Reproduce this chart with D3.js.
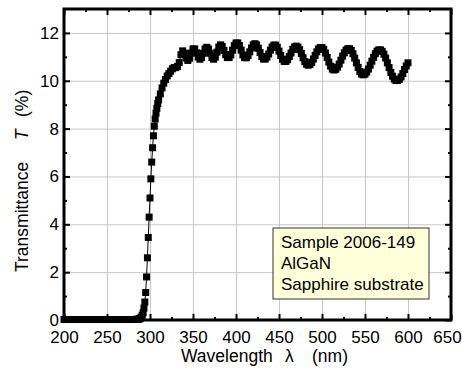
<!DOCTYPE html>
<html>
<head>
<meta charset="utf-8">
<script src="https://cdn.jsdelivr.net/npm/d3@7"></script>
<style>
  html, body { margin: 0; padding: 0; background: #fff; }
  svg text { font-family: "Liberation Sans", Arial, sans-serif; fill: #000; }
</style>
</head>
<body>
<div id="chart"></div>
<script>
// wavelength (nm)
const wavelength = [
  200, 204, 208, 212, 216, 220, 224, 228, 232, 236, 240, 244, 248, 252, 256, 260, 264, 268, 272, 276, 280, 284,
  286, 287, 288, 289, 290, 291, 292, 293, 294, 295, 296, 297, 298, 299, 300,
  301, 302, 303, 304, 305, 306, 307, 308, 309, 310,
  312, 314, 316, 318, 320, 322, 324, 326, 328, 330,
  332, 334, 336, 338, 340, 342, 344, 346, 348, 350,
  352, 354, 356, 358, 360, 362, 364, 366, 368, 370,
  372, 374, 376, 378, 380, 382, 384, 386, 388, 390,
  392, 394, 396, 398, 400, 402, 404, 406, 408, 410,
  412, 414, 416, 418, 420, 422, 424, 426, 428, 430,
  432, 434, 436, 438, 440, 442, 444, 446, 448, 450,
  452, 454, 456, 458, 460, 462, 464, 466, 468, 470,
  472, 474, 476, 478, 480, 482, 484, 486, 488, 490,
  492, 494, 496, 498, 500, 502, 504, 506, 508, 510,
  512, 514, 516, 518, 520, 522, 524, 526, 528, 530,
  532, 534, 536, 538, 540, 542, 544, 546, 548, 550,
  552, 554, 556, 558, 560, 562, 564, 566, 568, 570,
  572, 574, 576, 578, 580, 582, 584, 586, 588, 590,
  592, 594, 596, 598, 600
]

// transmittance T (%)
const transmittance = [
  0.02, 0.02, 0.02, 0.02, 0.02, 0.02, 0.02, 0.02, 0.02, 0.02, 0.02, 0.02, 0.02, 0.02, 0.02, 0.02, 0.02, 0.02, 0.02, 0.02, 0.02, 0.03,
  0.03, 0.04, 0.05, 0.08, 0.12, 0.2, 0.3, 0.5, 0.75, 1.15, 1.8, 2.6, 3.45, 4.3, 5.1,
  5.9, 6.6, 7.2, 7.7, 8.1, 8.4, 8.65, 8.85, 9.05, 9.2,
  9.45, 9.7, 9.9, 10.05, 10.2, 10.3, 10.4, 10.5, 10.55, 10.55,
  10.6, 10.76, 11.09, 11.25, 11.15, 10.95, 10.85, 10.94, 11.16, 11.33,
  11.33, 11.17, 10.99, 10.9, 10.97, 11.15, 11.33, 11.4, 11.33, 11.15,
  10.97, 10.9, 10.99, 11.2, 11.41, 11.5, 11.44, 11.27, 11.09, 10.97,
  10.97, 11.08, 11.28, 11.47, 11.58, 11.58, 11.47, 11.28, 11.08, 10.97,
  10.96, 11.05, 11.21, 11.37, 11.5, 11.55, 11.5, 11.36, 11.18, 11.01,
  10.91, 10.91, 10.99, 11.12, 11.28, 11.41, 11.49, 11.49, 11.4, 11.24,
  11.06, 10.9, 10.81, 10.81, 10.88, 11.01, 11.16, 11.31, 11.41, 11.45,
  11.41, 11.3, 11.14, 10.96, 10.8, 10.69, 10.65, 10.68, 10.77, 10.91,
  11.06, 11.21, 11.33, 11.39, 11.39, 11.31, 11.16, 10.97, 10.78, 10.61,
  10.49, 10.45, 10.48, 10.57, 10.7, 10.86, 11.03, 11.17, 11.28, 11.34,
  11.34, 11.27, 11.13, 10.95, 10.75, 10.56, 10.39, 10.28, 10.25, 10.28,
  10.36, 10.49, 10.65, 10.82, 10.98, 11.13, 11.24, 11.29, 11.29, 11.23,
  11.11, 10.95, 10.75, 10.55, 10.35, 10.19, 10.07, 10.01, 10.01, 10.06,
  10.16, 10.3, 10.47, 10.62, 10.75
]

const xTicks = [200, 250, 300, 350, 400, 450, 500, 550, 600, 650]
const xMinorTicks = [225, 275, 325, 375, 425, 475, 525, 575, 625]
const yTicks = [0, 2, 4, 6, 8, 10, 12]
const yMinorTicks = [1, 3, 5, 7, 9, 11]
const legendLines = ["Sample 2006-149", "AlGaN", "Sapphire substrate"]

const width = 462, height = 369
const margin = { top: 9, right: 11, bottom: 49, left: 64 }
const w = width - margin.left - margin.right
const h = height - margin.top - margin.bottom

let svg = d3.select("#chart")
  .append("svg")
  .attr("width", width)
  .attr("height", height)

let g = svg.append("g")
  .attr("transform", `translate(${margin.left},${margin.top})`)

let x = d3.scaleLinear().domain([200, 650]).range([0, w])
let y = d3.scaleLinear().domain([0, 13]).range([h, 0])

// grid
g.append("g")
  .attr("transform", `translate(0,${h})`)
  .call(d3.axisBottom(x).tickValues(xTicks).tickSize(-h).tickFormat(""))
  .call(a => a.select(".domain").remove())
  .call(a => a.selectAll("line").attr("stroke", "#c8c8c8").attr("stroke-width", 1))
g.append("g")
  .call(d3.axisLeft(y).tickValues(yTicks).tickSize(-w).tickFormat(""))
  .call(a => a.select(".domain").remove())
  .call(a => a.selectAll("line").attr("stroke", "#c8c8c8").attr("stroke-width", 1))

// data
let pts = wavelength.map((d, i) => [d, transmittance[i]])
let line = d3.line().x(d => x(d[0])).y(d => y(d[1]))
g.append("path")
  .datum(pts)
  .attr("d", line)
  .attr("fill", "none")
  .attr("stroke", "#000")
  .attr("stroke-width", 1)
let ms = 7
g.selectAll("rect.pt")
  .data(pts)
  .enter()
  .append("rect")
  .attr("class", "pt")
  .attr("x", d => x(d[0]) - ms / 2)
  .attr("y", d => y(d[1]) - ms / 2)
  .attr("width", ms)
  .attr("height", ms)
  .attr("fill", "#000")

// axes with inward ticks
function styleAxis(a) {
  a.select(".domain").remove()
  a.selectAll("line").attr("stroke", "#000").attr("stroke-width", 2)
  a.selectAll("text").style("font-size", "17px").style("font-family", "'Liberation Sans', Arial, sans-serif")
}
g.append("g")
  .attr("transform", `translate(0,${h})`)
  .call(d3.axisBottom(x).tickValues(xTicks).tickSize(-6).tickPadding(11).tickFormat(d3.format("d")))
  .call(styleAxis)
  .call(a => a.selectAll(".tick").filter(d => d === 650).select("text").attr("dx", -4))
g.append("g")
  .attr("transform", `translate(0,${h})`)
  .call(d3.axisBottom(x).tickValues(xMinorTicks).tickSize(-3).tickFormat(""))
  .call(styleAxis)
g.append("g")
  .call(d3.axisTop(x).tickValues(xTicks).tickSize(-6).tickFormat(""))
  .call(styleAxis)
g.append("g")
  .call(d3.axisTop(x).tickValues(xMinorTicks).tickSize(-3).tickFormat(""))
  .call(styleAxis)
g.append("g")
  .call(d3.axisLeft(y).tickValues(yTicks).tickSize(-6).tickPadding(5).tickFormat(d3.format("d")))
  .call(styleAxis)
g.append("g")
  .call(d3.axisLeft(y).tickValues(yMinorTicks).tickSize(-3).tickFormat(""))
  .call(styleAxis)
g.append("g")
  .attr("transform", `translate(${w},0)`)
  .call(d3.axisRight(y).tickValues(yTicks).tickSize(-6).tickFormat(""))
  .call(styleAxis)
g.append("g")
  .attr("transform", `translate(${w},0)`)
  .call(d3.axisRight(y).tickValues(yMinorTicks).tickSize(-3).tickFormat(""))
  .call(styleAxis)

// frame
g.append("rect")
  .attr("x", 0).attr("y", 0)
  .attr("width", w).attr("height", h)
  .attr("fill", "none")
  .attr("stroke", "#000")
  .attr("stroke-width", 3)

// axis titles
let xt = svg.append("text")
  .attr("y", 362)
  .style("font-size", "17.5px")
xt.append("tspan").attr("x", 181).text("Wavelength")
xt.append("tspan").attr("x", 285).text("λ")
xt.append("tspan").attr("x", 312).text("(nm)")

let yt = svg.append("text")
  .attr("transform", "translate(28,0) rotate(-90)")
  .style("font-size", "17.5px")
yt.append("tspan").attr("x", -272).text("Transmittance")
yt.append("tspan").attr("x", -140).style("font-style", "italic").text("T")
yt.append("tspan").attr("x", -117).text("(%)")

// legend box
let lg = svg.append("g").attr("transform", "translate(273,228)")
lg.append("rect")
  .attr("width", 156).attr("height", 71)
  .attr("fill", "#ffffd9")
  .attr("stroke", "#333")
  .attr("stroke-width", 1)
lg.selectAll("text")
  .data(legendLines)
  .enter()
  .append("text")
  .attr("x", 8)
  .attr("y", (d, i) => 20 + i * 21)
  .style("font-size", "17px")
  .text(d => d)
</script>
</body>
</html>
